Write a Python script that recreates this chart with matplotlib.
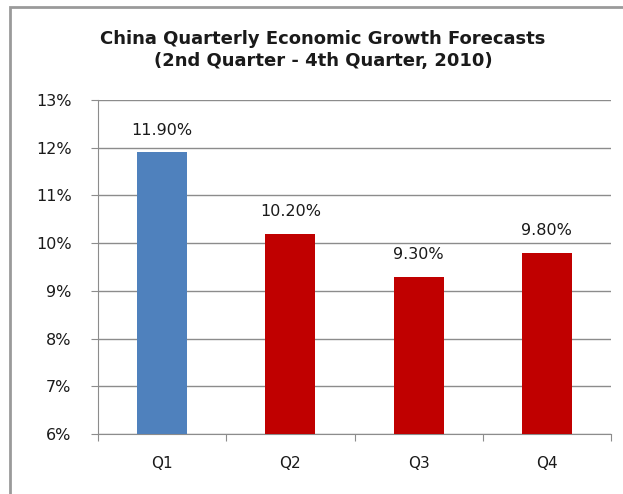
import numpy as np
import matplotlib.pyplot as plt
from matplotlib.patches import Rectangle

quarters = ['Q1', 'Q2', 'Q3', 'Q4']
growth = [11.9, 10.2, 9.3, 9.8]
labels = ['11.90%', '10.20%', '9.30%', '9.80%']
colors = ['#4F81BD', '#C00000', '#C00000', '#C00000']
yticks = [6, 7, 8, 9, 10, 11, 12, 13]

plt.rcParams['font.family'] = ['DejaVu Sans']

W, H = 623, 494
fig = plt.figure(figsize=(W / 100, H / 100), dpi=100)
# axes position in pixels: left 98, right 611, top 100, bottom 434
ax = fig.add_axes([98 / W, 1 - 434 / H, (611 - 98) / W, (434 - 100) / H])

x = np.arange(len(quarters))
ax.bar(x, [g - 6 for g in growth], bottom=6, width=0.39, color=colors, zorder=3)
for xi, g, lab in zip(x, growth, labels):
    ax.text(xi, g + 0.3, lab, ha='center', va='bottom', fontsize=11.5, color='#1a1a1a')

ax.set_xlim(-0.5, 3.5)
ax.set_ylim(6, 13)
ax.set_yticks(yticks)
ax.set_yticklabels([f'{t}%' for t in yticks], fontsize=11.5, color='#1a1a1a')
ax.yaxis.grid(True, color='#8c8c8c', linewidth=1, zorder=0)
ax.set_xticks([-0.5, 0.5, 1.5, 2.5, 3.5])
ax.set_xticklabels([])
ax.set_xticks(x, minor=True)
ax.set_xticklabels(quarters, minor=True, fontsize=11, color='#1a1a1a')
ax.tick_params(axis='x', which='major', length=5, color='#8c8c8c', direction='out')
ax.tick_params(axis='x', which='minor', length=0, pad=16)
ax.tick_params(axis='y', length=5, color='#8c8c8c', pad=14)
for s in ['top', 'right']:
    ax.spines[s].set_visible(False)
for s in ['left', 'bottom']:
    ax.spines[s].set_color('#8c8c8c')

fig.text(323 / W, 1 - 50 / H, 'China Quarterly Economic Growth Forecasts\n(2nd Quarter - 4th Quarter, 2010)',
         ha='center', va='center', fontsize=13, fontweight='bold', color='#1a1a1a',
         linespacing=1.3)

fig.patches.append(Rectangle((10 / W, -0.1), 1.2, 1 - 7 / H + 0.1, transform=fig.transFigure,
                             fill=False, edgecolor='#9a9a9a', linewidth=2))

fig.savefig('out.png', dpi=100)
